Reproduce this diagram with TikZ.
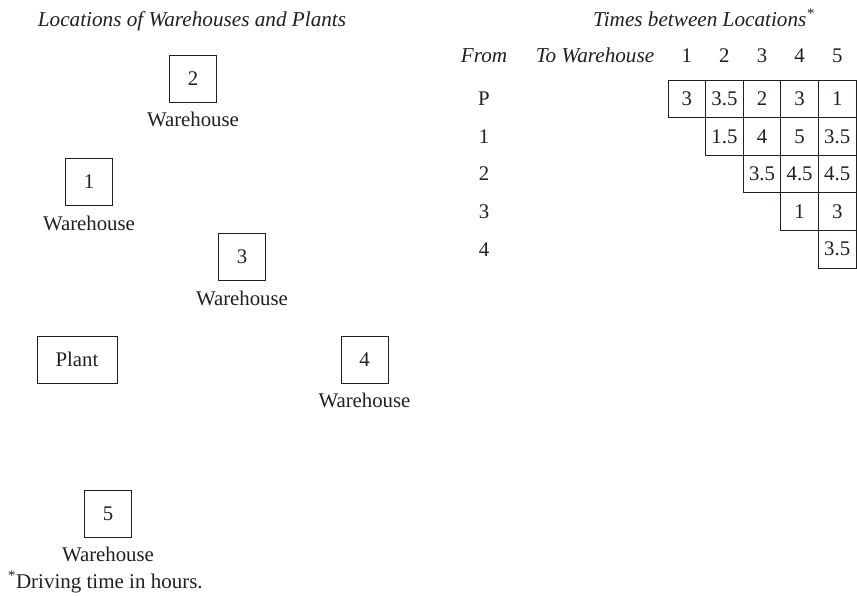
\documentclass[tikz,border=0pt]{standalone}
\usepackage{fontspec}
\setmainfont{Liberation Serif}
\definecolor{ink}{HTML}{231F20}
\begin{document}
\begin{tikzpicture}[x=1pt,y=-1pt,
 every node/.style={text=ink, font=\fontsize{20.8}{25}\selectfont},
 wbox/.style={draw=ink, line width=1pt, minimum width=47pt, minimum height=47pt, inner sep=0pt},
 pbox/.style={wbox, minimum width=80pt},
 wlbl/.style={anchor=base, inner sep=0pt},
 cell/.style={draw=ink, line width=1pt, minimum size=37.6pt, inner sep=0pt},
 hdr/.style={anchor=base, inner sep=0pt},
 itl/.style={font=\fontsize{21.2}{25}\selectfont\itshape},
 ttl/.style={itl, anchor=base, inner sep=0pt}]
\useasboundingbox (0,0) rectangle (857,595);

% titles
\node[ttl] (tleft) at (192,26) {Locations of Warehouses and Plants};
\node[ttl, anchor=base west] (tright) at (593,26) {Times between Locations\textsuperscript{*}};

% map
\node[wbox] (w2) at (193,78.5) {2};
\node[wlbl] (l2) at (193,126) {Warehouse};
\node[wbox] (w1) at (89,182) {1};
\node[wlbl] (l1) at (89,230) {Warehouse};
\node[wbox] (w3) at (242,257) {3};
\node[wlbl] (l3) at (242,305) {Warehouse};
\node[pbox] (plant) at (77,359.5) {Plant};
\node[wbox] (w4) at (364.5,359.5) {4};
\node[wlbl] (l4) at (364.5,407) {Warehouse};
\node[wbox] (w5) at (108,513.5) {5};
\node[wlbl] (l5) at (108,561) {Warehouse};

\node[anchor=base west, inner sep=0pt, font=\fontsize{21}{25}\selectfont] (foot) at (8,588) {\textsuperscript{*}Driving time in hours.};

% table header
\node[hdr, itl] (hfrom) at (484,62) {From};
\node[hdr, itl] (hto) at (595,62) {To Warehouse};
\foreach \c in {1,...,5}{
  \node[hdr] (h\c) at ({668+37.6*(\c-0.5)},62) {\c};
}
% row labels
\foreach \r/\t in {0/P,1/1,2/2,3/3,4/4}{
  \node[hdr] (r\r) at (484,{80+37.6*(\r+0.5)+6.8}) {\t};
}
% cells
\foreach \r/\c/\v in {0/1/3,0/2/3.5,0/3/2,0/4/3,0/5/1,
                      1/2/1.5,1/3/4,1/4/5,1/5/3.5,
                      2/3/3.5,2/4/4.5,2/5/4.5,
                      3/4/1,3/5/3,
                      4/5/3.5}{
  \node[cell] (c\r\c) at ({668+37.6*(\c-0.5)},{80+37.6*(\r+0.5)}) {\v};
}
\end{tikzpicture}
\end{document}
